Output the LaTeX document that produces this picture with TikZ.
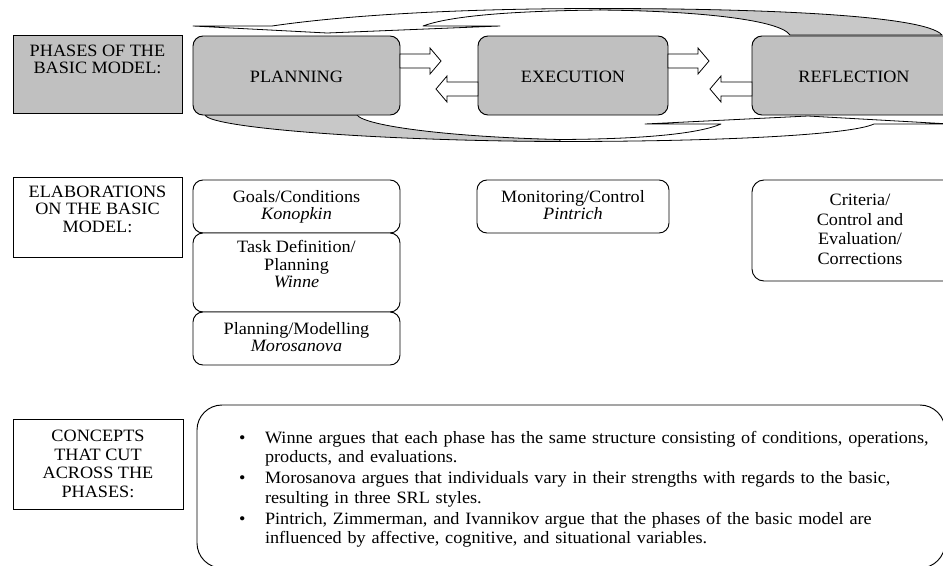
\documentclass[tikz,border=0pt]{standalone}
\usepackage{fontspec}
\setmainfont[FakeStretch=1.05]{Liberation Serif}
\usepackage{enumitem}
\usetikzlibrary{fit,calc}
\definecolor{boxgray}{HTML}{C0C0C0}
\definecolor{ribbongray}{HTML}{C8C8C8}
\newcommand\fsA{\fontsize{13pt}{12pt}\selectfont}
\newcommand\fsL{\fontsize{13pt}{13pt}\selectfont}
\newcommand\fsB{\fontsize{13pt}{13pt}\selectfont}
\newcommand\fsC{\fontsize{13pt}{14.6pt}\selectfont}
\newcommand\fsD{\fontsize{13pt}{14pt}\selectfont}
\newcommand\fsE{\fontsize{13pt}{14.5pt}\selectfont}
\tikzset{
  every node/.style={inner sep=0pt, outer sep=0pt},
  labelbox/.style={draw=black, line width=0.7pt, fill=white},
  phasebox/.style={draw=black, line width=0.7pt, fill=boxgray, rounded corners=7.5pt},
  elabbox/.style={draw=black, line width=0.7pt, fill=white, rounded corners=7.5pt},
  txt/.style={align=center, font=\fsA},
  ribbon/.style={draw=black, line width=0.6pt, line join=round},
  rarr/.pic={\filldraw[fill=white, draw=black, line width=0.6pt, line join=miter]
     (0,-7) -- (30,-7) -- (30,-13) -- (41,0) -- (30,13) -- (30,7) -- (0,7) -- cycle;},
  larr/.pic={\filldraw[fill=white, draw=black, line width=0.6pt, line join=miter]
     (0,0) -- (11,-13) -- (11,-7) -- (42,-7) -- (42,7) -- (11,7) -- (11,13) -- cycle;}
}
\begin{document}
\begin{tikzpicture}[x=0.75pt,y=-0.75pt]
\useasboundingbox (0,0) rectangle (943,565);
\clip (0,0) rectangle (943,565);
\fill[white] (0,0) rectangle (943,565);

% ---- curved ribbon arrows ----
% top: back (gray) part
\filldraw[ribbon, fill=ribbongray] (600,8.5) .. controls (760,8.5) and (925,15) .. (942,35)
   -- (790,35) .. controls (780,20) and (700,11) .. (600,10) -- cycle;
% top: front part with arrowhead
\filldraw[ribbon, fill=white] (327,33) -- (193,26) -- (272,26)
   .. controls (340,16) and (450,8.5) .. (600,8.5) -- (600,10)
   .. controls (510,11) and (450,16) .. (423,26) -- (500,26) -- cycle;
% bottom: back (gray) part
\filldraw[ribbon, fill=ribbongray] (205,115) .. controls (210,128) and (380,141) .. (560,141.5)
   -- (560,139.5) .. controls (450,137) and (365,126) .. (357,115) -- cycle;
% bottom: front part with arrowhead
\filldraw[ribbon, fill=white] (808,116) -- (950,124) -- (874,124)
   .. controls (850,135) and (720,141.5) .. (560,141.5) -- (560,139.5)
   .. controls (650,139) and (700,133) .. (721,124) -- (645,124) -- cycle;

% ---- row 1: phases ----
\node[labelbox, fill=boxgray, fit={(13,35) (182,113)}] (phaseslab) {};
\node[txt, font=\fsL, anchor=north] (phasestxt) at (97.5,45) {PHASES OF THE\\BASIC MODEL:};

\node[phasebox, fit={(193,36) (400,115)}] (plan) {};
\node[txt] (plantxt) at (296.5,76.5) {PLANNING};
\node[phasebox, fit={(478,36) (668,115)}] (exec) {};
\node[txt] (exectxt) at (573,76.5) {EXECUTION};
\node[phasebox, fit={(752,36) (958,115)}] (refl) {};
\node[txt] (refltxt) at (854,76.5) {REFLECTION};

\pic at ($(plan.east)+(0,-14.5)$) {rarr};
\pic at ($(exec.west)+(-42,13.5)$) {larr};
\pic at ($(exec.east)+(0,-14.5)$) {rarr};
\pic at ($(refl.west)+(-42,13.5)$) {larr};

% ---- row 2: elaborations ----
\node[labelbox, fit={(13,177) (182,257)}] (elablab) {};
\node[txt, font=\fsL, anchor=north] (elabtxt) at (97.5,186) {ELABORATIONS\\ON THE BASIC\\MODEL:};

\node[elabbox, fit={(193,180) (400,233)}] (goals) {};
\node[txt, font=\fsB, anchor=north] (goalstxt) at (296.5,190) {Goals/Conditions\\\textit{Konopkin}};
\node[elabbox, fit={(193,233) (400,312)}] (task) {};
\node[txt, font=\fsB, anchor=north] (tasktxt) at (296.5,240.5) {Task Definition/\\Planning\\\textit{Winne}};
\node[elabbox, fit={(193,312) (400,365)}] (moro) {};
\node[txt, font=\fsB, anchor=north] (morotxt) at (296.5,322.5) {Planning/Modelling\\\textit{Morosanova}};

\node[elabbox, fit={(477,180) (669,233)}] (monit) {};
\node[txt, font=\fsB, anchor=north] (monittxt) at (573,190) {Monitoring/Control\\\textit{Pintrich}};

\node[elabbox, rounded corners=9pt, fit={(752,180) (968,281)}] (crit) {};
\node[txt, font=\fsC, anchor=north] (crittxt) at (860,194.5) {Criteria/\\Control and\\Evaluation/\\Corrections};

% ---- row 3: concepts ----
\node[labelbox, fit={(13,419) (183,509)}] (conclab) {};
\node[txt, font=\fsD, anchor=north] (conctxt) at (98,430) {CONCEPTS\\THAT CUT\\ACROSS THE\\PHASES:};

\node[elabbox, rounded corners=18.75pt, fit={(197,405) (945,568)}] (concbox) {};
\node[anchor=north west, text width=520.5pt, align=left, font=\fsE] (bullets) at (239,424) {%
\begin{itemize}[leftmargin=19.5pt, labelwidth=19.5pt, labelsep=0pt, labelindent=0pt, align=left,
  itemsep=1.3pt, topsep=0pt, parsep=0pt, partopsep=0pt]
\item Winne argues that each phase has the same structure consisting of conditions, operations, products, and evaluations.
\item Morosanova argues that individuals vary in their strengths with regards to the basic, resulting in three SRL styles.
\item Pintrich, Zimmerman, and Ivannikov argue that the phases of the basic model are influenced by affective, cognitive, and situational variables.
\end{itemize}};
\end{tikzpicture}
\end{document}
